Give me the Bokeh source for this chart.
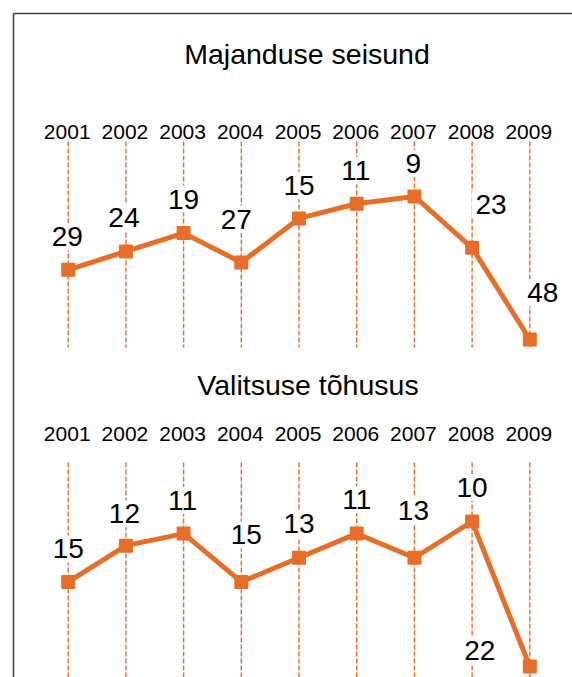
from bokeh.plotting import figure
from bokeh.models import Range1d, Label, ColumnDataSource
from bokeh.embed import file_html
from bokeh.resources import INLINE

# ---------------- data ----------------
years = [2001, 2002, 2003, 2004, 2005, 2006, 2007, 2008, 2009]
year_labels = ["2001", "2002", "2003", "2004", "2005", "2006", "2007", "2008", "2009"]
economy_rank = [29, 24, 19, 27, 15, 11, 9, 23, 48]
government_rank = [15, 12, 11, 15, 13, 11, 13, 10, 22]
title_top = "Majanduse seisund"
title_bottom = "Valitsuse tõhusus"

# ---------------- layout / style ----------------
W, H = 572, 677
ORANGE = "#E66E28"
FONT = "Liberation Sans"

# manual value-label offsets (screen px: dx right, dy up)
top_dx = [-1, -2, 0, -5, 0, -1, -1, 19, 13]
top_dy = [33, 34, 34, 43, 33, 33, 33, 43, 47]
bot_dx = [0, -1.5, -1, 5, 0, 0, -1, 0, -50]
bot_dy = [33, 32, 33, 47, 34, 34, 47, 34, 16]


def x_range_for(v0, px0, v1, px1, size):
    s = (v1 - v0) / (px1 - px0)
    return Range1d(start=v0 - px0 * s, end=v0 + (size - px0) * s)


def y_range_for(v0, px0, v1, px1, size):
    # px measured from the top of the canvas; value axis grows downward
    s = (v1 - v0) / (px1 - px0)
    return Range1d(start=v0 + (size - px0) * s, end=v0 - px0 * s)


p = figure(width=W, height=H, output_backend="svg", toolbar_location=None,
           x_range=Range1d(0, W), y_range=Range1d(H, 0),
           x_axis_type=None, y_axis_type=None, min_border=0)
p.grid.visible = False
p.outline_line_color = None
p.background_fill_color = "white"
p.border_fill_color = "white"

p.extra_x_ranges = {"yr": x_range_for(2001, 67.7, 2009, 529.3, W)}
p.extra_y_ranges = {
    "top": y_range_for(29, 269.3, 48, 339.0, H),
    "bot": y_range_for(10, 521.0, 22, 666.0, H),
}

# chart-area border (left and top edges visible)
p.segment(x0=[13, 13], y0=[H, 13], x1=[13, W], y1=[13, 13],
          line_color="#404040", line_width=1.6)

# dashed drop lines
p.segment(x0=years, y0=[141] * len(years), x1=years, y1=[347] * len(years),
          x_range_name="yr", line_color=ORANGE, line_width=1.4, line_dash="5 2")
p.segment(x0=years, y0=[462] * len(years), x1=years, y1=[H] * len(years),
          x_range_name="yr", line_color=ORANGE, line_width=1.4, line_dash="5 2")

# series
src_top = ColumnDataSource(dict(x=years, y=economy_rank))
src_bot = ColumnDataSource(dict(x=years, y=government_rank))
for src, rn in ((src_top, "top"), (src_bot, "bot")):
    p.line("x", "y", source=src, x_range_name="yr", y_range_name=rn,
           line_color=ORANGE, line_width=5, line_join="round")
    p.scatter("x", "y", source=src, x_range_name="yr", y_range_name=rn,
              marker="square", size=12, fill_color=ORANGE,
              line_color=ORANGE, line_width=2, line_join="round")

# titles
p.add_layout(Label(x=306.5, y=53, text=title_top, text_font=FONT,
                   text_font_size="28.5px", text_color="black",
                   text_align="center", text_baseline="middle"))
p.add_layout(Label(x=307.5, y=384, text=title_bottom, text_font=FONT,
                   text_font_size="28.5px", text_color="black",
                   text_align="center", text_baseline="middle"))

# year labels
for yr, lab in zip(years, year_labels):
    for ypix in (131, 433):
        p.add_layout(Label(x=yr, y=ypix, x_range_name="yr", text=lab,
                           x_offset=-1, text_font=FONT, text_font_size="21px",
                           text_color="black", text_align="center",
                           text_baseline="middle"))

# value labels
for vals, rn, dxs, dys in ((economy_rank, "top", top_dx, top_dy),
                           (government_rank, "bot", bot_dx, bot_dy)):
    for yr, v, dx, dy in zip(years, vals, dxs, dys):
        p.add_layout(Label(x=yr, y=v, x_range_name="yr", y_range_name=rn,
                           text=str(v), x_offset=dx, y_offset=dy,
                           text_font=FONT, text_font_size="28px",
                           text_color="black", text_align="center",
                           text_baseline="middle",
                           background_fill_color="white", padding=4))

open("out.html", "w").write(file_html(p, INLINE))
